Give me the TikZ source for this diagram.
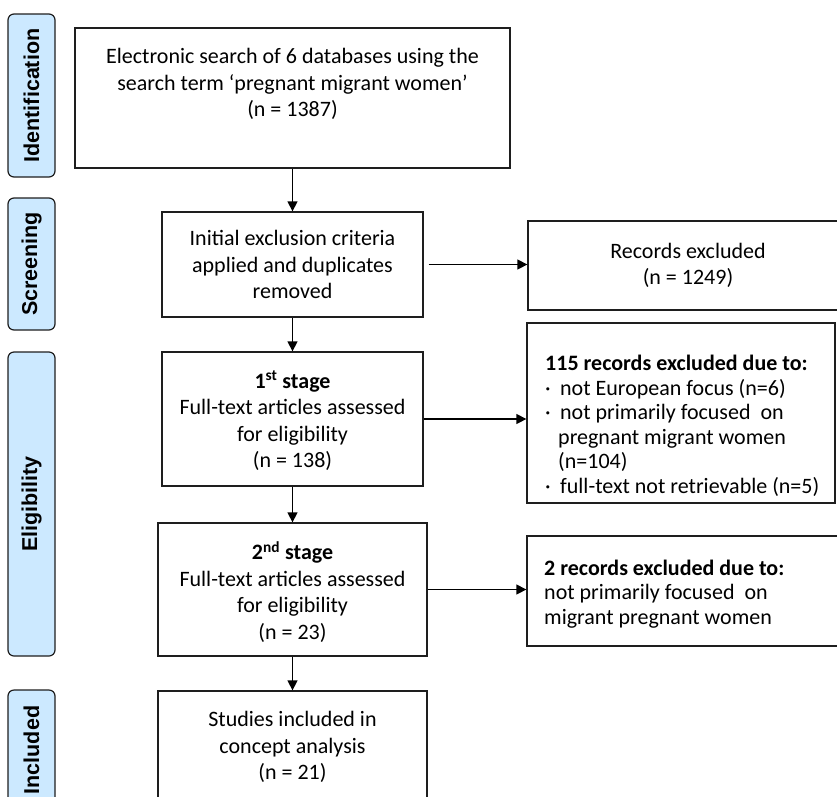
\documentclass[tikz,border=0pt]{standalone}
\usepackage{fontspec}
\setmainfont{Carlito}
\newfontfamily\labelfont{Liberation Sans}
\usetikzlibrary{arrows.meta}
\definecolor{phasefill}{RGB}{204,233,255}
\definecolor{lineclr}{RGB}{30,30,30}
\begin{document}
\begin{tikzpicture}[x=1pt,y=-1pt,
  box/.style={draw=lineclr, line width=1.3pt, rectangle, inner sep=0pt},
  txt/.style={align=center, inner sep=0pt, font=\fontsize{22}{26.5}\selectfont},
  ltxt/.style={align=left, inner sep=0pt, font=\fontsize{22}{24.5}\selectfont},
  phase/.style={draw=lineclr, line width=1.2pt, fill=phasefill, rounded corners=6pt,
     rotate=90, minimum height=47pt, inner sep=0pt,
     font=\labelfont\bfseries\fontsize{21.5}{24}\selectfont},
  arr/.style={draw=black, line width=1.3pt, -{Triangle[length=10pt,width=10pt]}}
]
\clip (0,0) rectangle (837,796);
% phase labels
\node[phase, minimum width=163pt] (pid) at (31.5,95.5) {Identification};
\node[phase, minimum width=132pt] (psc) at (31.5,264) {Screening};
\node[phase, minimum width=304pt] (pel) at (31.5,504) {Eligibility};
\node[phase, minimum width=120pt] (pin) at (31.5,750) {Included};
% boxes
\node[box, minimum width=435pt, minimum height=140pt] (b1) at (292.5,98) {};
\node[txt] (t1) at (292.5,84) {Electronic search of 6 databases using the\\search term ‘pregnant migrant women’\\(n = 1387)};
\node[box, minimum width=261pt, minimum height=105pt] (b2) at (292.5,264.5) {};
\node[txt] (t2) at (292.5,264.5) {Initial exclusion criteria\\applied and duplicates\\removed};
\node[box, minimum width=320pt, minimum height=89pt] (rec) at (688,265.5) {};
\node[txt] (trec) at (688,265.5) {Records excluded\\(n = 1249)};
\node[box, minimum width=261pt, minimum height=134pt] (b3) at (292.5,419) {};
\node[txt] (t3) at (292.5,421) {\textbf{1\textsuperscript{st} stage}\\Full-text articles assessed\\for eligibility\\(n = 138)};
\node[box, minimum width=308pt, minimum height=180pt] (ex1) at (681,413) {};
\node[ltxt, anchor=west] (tex1) at (545,426) {\textbf{115 records excluded due to:}\\
\makebox[15pt][l]{·}not European focus (n=6)\\
\makebox[15pt][l]{·}not primarily focused\ \ on\\
\hspace*{13pt}pregnant migrant women\\
\hspace*{13pt}(n=104)\\
\makebox[15pt][l]{·}full-text not retrievable (n=5)};
\node[box, minimum width=269pt, minimum height=133pt] (b4) at (292.5,589.5) {};
\node[txt] (t4) at (292.5,592) {\textbf{2\textsuperscript{nd} stage}\\Full-text articles assessed\\for eligibility\\(n = 23)};
\node[box, minimum width=323pt, minimum height=110pt] (ex2) at (688.5,591) {};
\node[ltxt, anchor=west] (tex2) at (544,594) {\textbf{2 records excluded due to:}\\not primarily focused\ \ on\\migrant pregnant women};
\node[box, minimum width=269pt, minimum height=112pt] (b5) at (292.5,747) {};
\node[txt] (t5) at (292.5,747) {Studies included in\\concept analysis\\(n = 21)};
% connectors
\draw[arr] (b1.south -| b2.north) -- (b2.north);
\draw[arr] ([xshift=5pt]b2.east) -- (b2.east -| rec.west);
\draw[arr] (b2.south) -- (b3.north);
\draw[arr] (b3.east) -- (b3.east -| ex1.west);
\draw[arr] (b3.south) -- (b4.north);
\draw[arr] (b4.east) -- (b4.east -| ex2.west);
\draw[arr] (b4.south) -- (b5.north);
\end{tikzpicture}
\end{document}
